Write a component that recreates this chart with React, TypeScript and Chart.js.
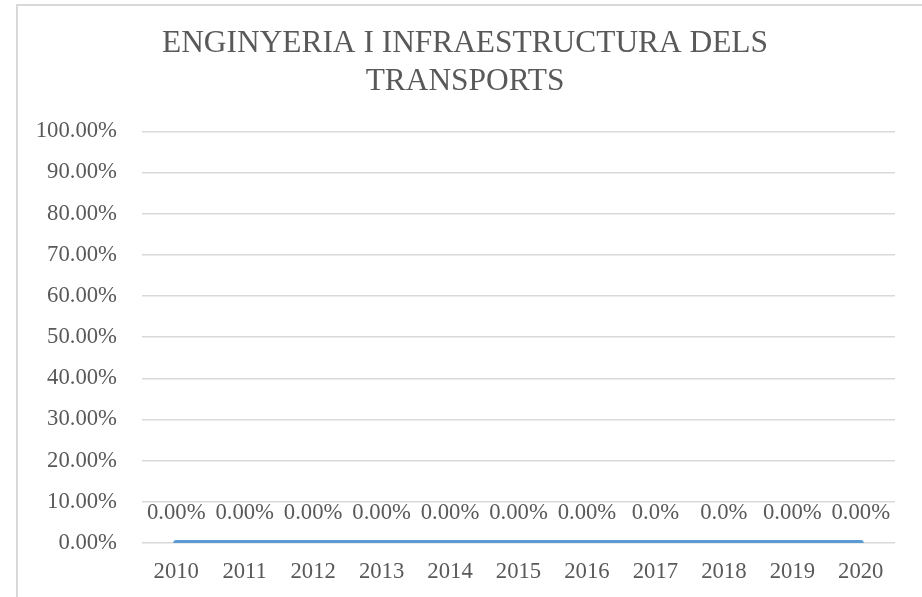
import React, { useEffect, useRef } from "react";
import { Chart, registerables } from "chart.js";

Chart.register(...registerables);

const years = ["2010", "2011", "2012", "2013", "2014", "2015", "2016", "2017", "2018", "2019", "2020"];
const values = [0, 0, 0, 0, 0, 0, 0, 0, 0, 0, 0];
const valueLabels = ["0.00%", "0.00%", "0.00%", "0.00%", "0.00%", "0.00%", "0.00%", "0.0%", "0.0%", "0.00%", "0.00%"];
const titleLines = ["ENGINYERIA I INFRAESTRUCTURA DELS", "TRANSPORTS"];

const FONT = "'Liberation Serif', 'Times New Roman', serif";
const GREY = "#595959";
const FS = 22.7;

const dataLabelPlugin = {
  id: "dataLabels",
  afterDatasetsDraw(chart: any) {
    const ctx = chart.ctx;
    const meta = chart.getDatasetMeta(0);
    ctx.save();
    ctx.font = `${FS}px ${FONT}`;
    ctx.fillStyle = GREY;
    ctx.textAlign = "center";
    ctx.textBaseline = "middle";
    meta.data.forEach((pt: any, i: number) => {
      ctx.fillText(valueLabels[i], pt.x, pt.y - 30);
    });
    ctx.restore();
  },
};

export default function App() {
  const ref = useRef<HTMLCanvasElement>(null);
  useEffect(() => {
    const chart = new Chart(ref.current!, {
      type: "line",
      data: {
        labels: years,
        datasets: [
          {
            data: values,
            borderColor: "#5B9BD5",
            backgroundColor: "#5B9BD5",
            borderWidth: 6,
            borderCapStyle: "round",
            pointRadius: 0,
            tension: 0,
          },
        ],
      },
      options: {
        animation: false,
        responsive: false,
        maintainAspectRatio: false,
        layout: { padding: { left: 17, right: 27, top: 0, bottom: 14 } },
        plugins: {
          legend: { display: false },
          tooltip: { enabled: false },
          title: {
            display: true,
            text: titleLines,
            color: GREY,
            font: { family: FONT, size: 31.4, weight: "normal", lineHeight: 1.2 },
            padding: { top: 19, bottom: 31 },
          },
        },
        scales: {
          x: {
            offset: true,
            grid: { display: false, drawTicks: false },
            border: { display: false },
            ticks: { color: GREY, font: { family: FONT, size: FS }, padding: 15, maxRotation: 0 },
            afterFit: (s: any) => {
              s.height = 40;
            },
          },
          y: {
            min: 0,
            max: 1,
            grid: { color: "#d9d9d9", lineWidth: 1.5, drawTicks: false },
            border: { display: false },
            ticks: {
              stepSize: 0.1,
              color: GREY,
              font: { family: FONT, size: FS },
              padding: 25,
              callback: (v: any) => (Number(v) * 100).toFixed(2) + "%",
            },
            afterFit: (s: any) => {
              s.width = 107;
            },
          },
        },
      },
      plugins: [dataLabelPlugin],
    } as any);
    return () => chart.destroy();
  }, []);
  return (
    <div
      style={{
        position: "fixed",
        left: 16,
        top: 4,
        width: 906,
        height: 593,
        borderTop: "2px solid #d9d9d9",
        borderLeft: "2px solid #d9d9d9",
        background: "#fff",
        boxSizing: "border-box",
      }}
    >
      <canvas ref={ref} width={904} height={591} style={{ display: "block" }} />
    </div>
  );
}
